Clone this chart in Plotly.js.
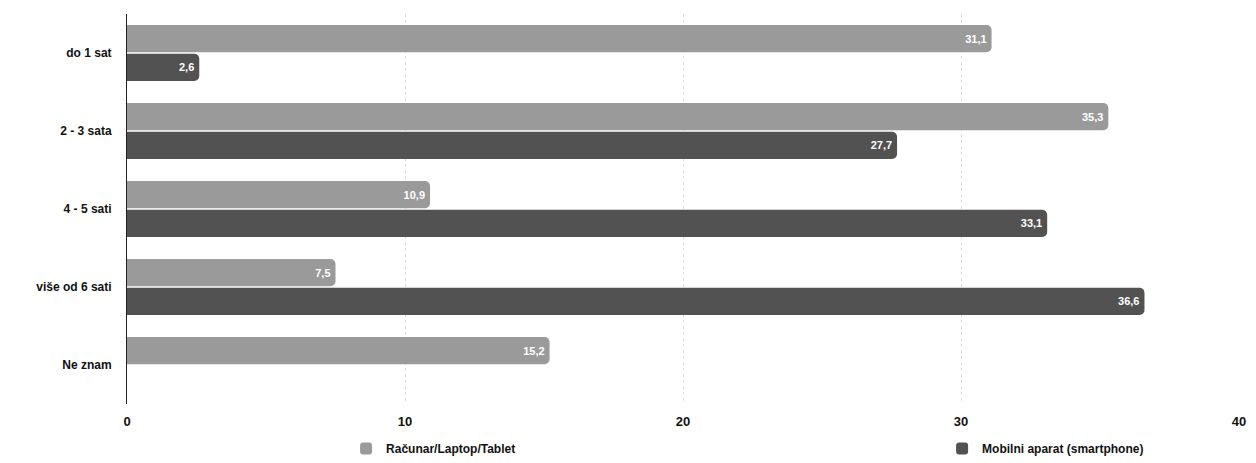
<!DOCTYPE html>
<html>
<head>
<meta charset="utf-8">
<script src="https://cdn.plot.ly/plotly-3.0.1.min.js"></script>
<style>html,body{margin:0;padding:0;background:#fff;}#chart{width:1256px;height:463px;}</style>
</head>
<body>
<div id="chart"></div>
<script>
const categories = ["do 1 sat", "2 - 3 sata", "4 - 5 sati", "više od 6 sati", "Ne znam"];
const racunarValues = [31.1, 35.3, 10.9, 7.5, 15.2];
const mobilniValues = [2.6, 27.7, 33.1, 36.6, null];
const seriesNames = ["Računar/Laptop/Tablet", "Mobilni aparat (smartphone)"];
const xTicks = [0, 10, 20, 30, 40];

const textFont = {family: "Liberation Sans, Arial, sans-serif", size: 11, color: "#ffffff", weight: "bold"};

const traces = [
  {
    type: "bar", orientation: "h", name: seriesNames[0], legend: "legend",
    y: categories, x: racunarValues,
    marker: {color: "#9a9a9a", cornerradius: 5},
    texttemplate: "%{x:.1f}", textposition: "inside", insidetextanchor: "end",
    textfont: textFont, hoverinfo: "x+y"
  },
  {
    type: "bar", orientation: "h", name: seriesNames[1], legend: "legend2",
    y: categories, x: mobilniValues,
    marker: {color: "#525252", cornerradius: 5},
    texttemplate: "%{x:.1f}", textposition: "inside", insidetextanchor: "end",
    textfont: textFont, hoverinfo: "x+y"
  }
];

const legendBase = {
  orientation: "h", yref: "container", y: -0.01, yanchor: "bottom",
  font: {size: 12, color: "#111111", weight: "bold"}, itemwidth: 30,
  bgcolor: "rgba(0,0,0,0)"
};

const layout = {
  width: 1256, height: 463,
  margin: {l: 127, r: 17, t: 14, b: 59},
  paper_bgcolor: "#ffffff", plot_bgcolor: "#ffffff",
  separators: ", ",
  barmode: "group",
  bargap: 0.26, bargroupgap: 0.06,
  font: {family: "Liberation Sans, Arial, sans-serif", size: 13, color: "#111111"},
  xaxis: {
    range: [0, 40], tickvals: xTicks, ticktext: xTicks.map(String),
    showgrid: true, gridcolor: "#dcdcdc", griddash: "dot", gridwidth: 1,
    zeroline: false, showline: false, ticks: "",
    tickfont: {size: 13, color: "#111111", weight: "bold"}, ticklabelstandoff: 8
  },
  yaxis: {
    autorange: "reversed", showline: true, linecolor: "#222222", linewidth: 1,
    showgrid: false, ticks: "", ticklabelstandoff: 12,
    tickfont: {size: 12, color: "#111111", weight: "bold"}
  },
  showlegend: true,
  legend: Object.assign({}, legendBase, {x: 0.197, xanchor: "left"}),
  legend2: Object.assign({}, legendBase, {x: 0.733, xanchor: "left"})
};

Plotly.newPlot("chart", traces, layout, {displayModeBar: false, staticPlot: true});
</script>
</body>
</html>
